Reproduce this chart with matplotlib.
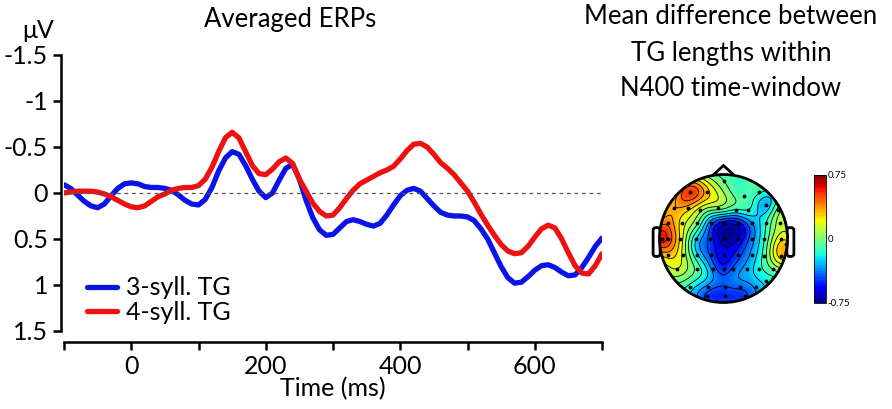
import matplotlib.pyplot as plt
import numpy as np
from matplotlib.patches import Circle, Polygon, FancyBboxPatch

plt.rcParams['font.family'] = ['Lato', 'DejaVu Sans']

# ERP waveforms, sampled every 10 ms
time_ms = np.arange(-100, 701, 10)
erp_3syll = [-0.09, -0.05, 0.02, 0.09, 0.14, 0.16, 0.12, 0.03, -0.05, -0.10,
             -0.11, -0.10, -0.07, -0.06, -0.06, -0.05, -0.03, 0.02, 0.08, 0.12,
             0.13, 0.07, -0.06, -0.24, -0.38, -0.45, -0.42, -0.30, -0.15, -0.02,
             0.05, 0.00, -0.14, -0.27, -0.31, -0.15, 0.08, 0.27, 0.40, 0.46,
             0.45, 0.38, 0.31, 0.29, 0.31, 0.34, 0.36, 0.33, 0.24, 0.13,
             0.03, -0.03, -0.05, -0.02, 0.06, 0.14, 0.21, 0.24, 0.25, 0.25,
             0.26, 0.30, 0.39, 0.50, 0.65, 0.80, 0.92, 0.98, 0.97, 0.91,
             0.84, 0.79, 0.78, 0.81, 0.86, 0.90, 0.89, 0.81, 0.70, 0.58,
             0.49]
erp_4syll = [0.00, -0.01, -0.02, -0.02, -0.02, -0.01, 0.01, 0.04, 0.08, 0.12,
             0.15, 0.16, 0.14, 0.09, 0.04, 0.01, -0.03, -0.05, -0.06, -0.06,
             -0.08, -0.15, -0.28, -0.45, -0.60, -0.66, -0.60, -0.45, -0.30, -0.21,
             -0.20, -0.26, -0.34, -0.38, -0.32, -0.15, -0.02, 0.11, 0.20, 0.25,
             0.24, 0.16, 0.06, -0.03, -0.10, -0.14, -0.18, -0.22, -0.25, -0.29,
             -0.37, -0.46, -0.53, -0.54, -0.50, -0.42, -0.33, -0.27, -0.20, -0.11,
             -0.02, 0.10, 0.23, 0.35, 0.46, 0.56, 0.63, 0.66, 0.65, 0.58,
             0.48, 0.39, 0.35, 0.38, 0.50, 0.65, 0.79, 0.87, 0.88, 0.79,
             0.66]
series_labels = ['3-syll. TG', '4-syll. TG']
yticks = [-1.5, -1, -0.5, 0, 0.5, 1, 1.5]
ytick_labels = ['-1.5', '-1', '-0.5', '0', '0.5', '1', '1.5']
xticks = list(range(-100, 701, 100))
xtick_labels = ['' if t % 200 else str(t) for t in xticks]
xtick_labels[0] = ''

# electrode positions (head radius = 1) and mean difference values
elec_x = [0.01,
          -0.53, -0.26, 0.32, 0.56,
          -0.77, -0.55, -0.37, -0.08, 0.19, 0.39, 0.67, 0.85,
          -0.86, -0.65, -0.42, -0.19, 0.00, 0.23, 0.44, 0.67, 0.88,
          -0.96, -0.86, -0.68, -0.43, -0.21, 0.00, 0.22, 0.44, 0.64, 0.90, 0.97,
          -0.86, -0.63, -0.42, -0.19, 0.00, 0.22, 0.44, 0.64, 0.90,
          -0.73, -0.42, -0.16, 0.00, 0.15, 0.36, 0.56, 0.77,
          -0.53, -0.24, 0.02, 0.25, 0.51, 0.66,
          -0.26, 0.02, 0.33]
elec_y = [0.90,
          0.73, 0.73, 0.67, 0.73,
          0.47, 0.48, 0.45, 0.47, 0.45, 0.44, 0.53, 0.44,
          0.25, 0.25, 0.25, 0.25, 0.25, 0.25, 0.25, 0.25, 0.25,
          0.00, 0.00, 0.00, 0.00, 0.00, 0.00, 0.00, 0.00, 0.00, 0.00, -0.08,
          -0.26, -0.26, -0.26, -0.26, -0.26, -0.26, -0.26, -0.28, -0.28,
          -0.48, -0.48, -0.48, -0.48, -0.48, -0.48, -0.48, -0.48,
          -0.75, -0.75, -0.75, -0.75, -0.75, -0.66,
          -0.90, -0.90, -0.90]
elec_val = [-0.05,
            0.55, 0.30, -0.10, -0.12,
            0.35, 0.30, 0.10, 0.00, -0.15, -0.15, -0.32, 0.00,
            0.42, 0.20, 0.00, -0.42, -0.58, -0.58, -0.35, -0.15, 0.10,
            0.62, 0.50, 0.25, -0.25, -0.48, -0.72, -0.66, -0.40, -0.15, 0.22, 0.30,
            0.30, 0.12, -0.22, -0.48, -0.60, -0.50, -0.32, -0.10, 0.30,
            0.15, -0.08, -0.38, -0.52, -0.42, -0.32, -0.18, -0.05,
            -0.18, -0.38, -0.45, -0.42, -0.32, -0.22,
            -0.48, -0.52, -0.48]

fig = plt.figure(figsize=(8.92, 4.09), dpi=100)

# ---- ERP panel
ax = fig.add_axes([64 / 892, 78 / 409, 538 / 892, 276 / 409])
ax.plot(time_ms, erp_3syll, color='#0a14e6', lw=3.8, label=series_labels[0],
        solid_capstyle='round')
ax.plot(time_ms, erp_4syll, color='#ee1111', lw=3.8, label=series_labels[1],
        solid_capstyle='round')
ax.axhline(0, color='#555555', lw=0.9, ls=(0, (3, 3)))
ax.set_xlim(-100, 700)
ax.set_ylim(1.5, -1.5)
ax.set_yticks(yticks)
ax.set_yticklabels(ytick_labels)
ax.set_xticks(xticks)
ax.set_xticklabels(xtick_labels)
for s in ['top', 'right']:
    ax.spines[s].set_visible(False)
ax.spines['bottom'].set_position(('outward', 8))
ax.spines['left'].set_position(('outward', 2))
for s in ['bottom', 'left']:
    ax.spines[s].set_linewidth(1.8)
ax.tick_params(axis='both', labelsize=18, width=1.8, length=6, direction='out')
ax.set_xlabel('Time (ms)', fontsize=18, labelpad=-1)
ax.legend(loc='lower left', bbox_to_anchor=(0.0, -0.055), frameon=False,
          fontsize=18, handlelength=1.2, handletextpad=0.4, labelspacing=0.05)

fig.text(290 / 892, 1 - 20 / 409, 'Averaged ERPs', fontsize=18.5,
         ha='center', va='center')
fig.text(38 / 892, 1 - 30 / 409, 'μV', fontsize=18, ha='center', va='center')
fig.text(731 / 892, 1 - 53 / 409,
         'Mean difference between\nTG lengths within\nN400 time-window',
         fontsize=18.5, ha='center', va='center', linespacing=1.55)

# ---- topographic map
px = np.array(elec_x)
py = np.array(elec_y)
pv = np.array(elec_val)
mean_v = pv.mean()
d = np.hypot(px[:, None] - px[None, :], py[:, None] - py[None, :])
sig = 0.27
K = np.exp(-(d / sig) ** 2)
w = np.linalg.solve(K + 0.03 * np.eye(len(px)), pv - mean_v)

gx, gy = np.meshgrid(np.linspace(-1, 1, 201), np.linspace(-1, 1, 201))
gd = np.hypot(gx[..., None] - px, gy[..., None] - py)
gz = np.exp(-(gd / sig) ** 2) @ w + mean_v
gz = np.clip(gz, -0.74, 0.74)
gz[np.hypot(gx, gy) > 1.0] = np.nan

tax = fig.add_axes([643.5 / 892, 90.5 / 409, 160 / 892, 160 / 409])
levels = np.linspace(-0.75, 0.75, 16)
cf = tax.contourf(gx, gy, gz, levels=np.linspace(-0.75, 0.75, 61), cmap='jet')
tax.contour(gx, gy, gz, levels=levels, colors='k', linewidths=0.6,
            linestyles='solid')
tax.plot(px, py, 'k.', ms=3.5)
tax.add_patch(Circle((0, 0), 1.0, fill=False, lw=2, color='k'))
tax.add_patch(Polygon([[-0.17, 0.985], [0, 1.14], [0.17, 0.985]], closed=False,
                      fill=False, lw=2, color='k'))
for ex in (-1.1, 0.99):
    tax.add_patch(FancyBboxPatch((ex, -0.28), 0.11, 0.45,
                                 boxstyle='round,pad=0,rounding_size=0.04',
                                 fill=False, lw=2, color='k', zorder=0))
tax.set_xlim(-1.25, 1.25)
tax.set_ylim(-1.25, 1.25)
tax.set_aspect('equal')
tax.axis('off')

cax = fig.add_axes([814 / 892, 106 / 409, 12 / 892, 128 / 409])
cb = fig.colorbar(cf, cax=cax, ticks=[-0.75, 0, 0.75])
cb.ax.set_yticklabels(['-0.75', '0', '0.75'])
cb.ax.tick_params(labelsize=7, length=0, pad=1)
cb.outline.set_linewidth(0.6)

fig.savefig('out.png', dpi=100)
